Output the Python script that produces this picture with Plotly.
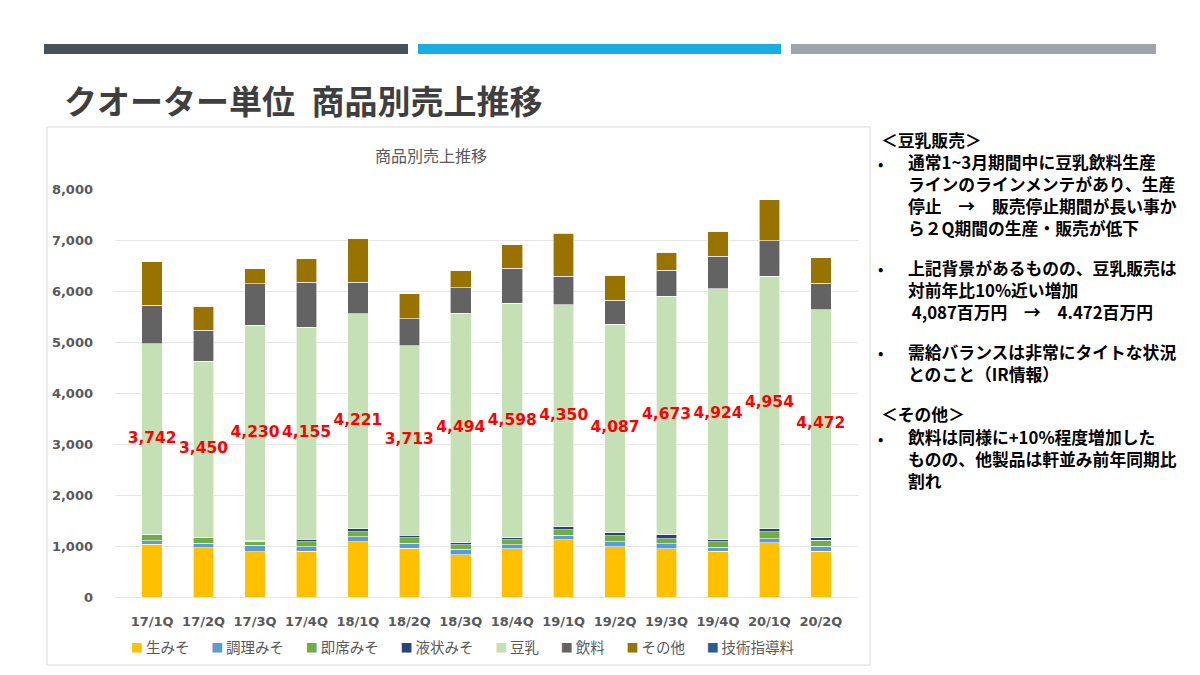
import plotly.graph_objects as go

W, H = 1200, 675

quarters = ["17/1Q", "17/2Q", "17/3Q", "17/4Q", "18/1Q", "18/2Q", "18/3Q",
            "18/4Q", "19/1Q", "19/2Q", "19/3Q", "19/4Q", "20/1Q", "20/2Q"]

# 単位: 百万円
nama_miso = [1033, 961, 889, 902, 1085, 954, 824, 942, 1118, 988, 942, 896, 1059, 896]
chouri_miso = [72, 92, 124, 85, 92, 98, 111, 85, 92, 98, 105, 78, 85, 98]
sokuseki_miso = [118, 111, 85, 92, 105, 111, 85, 92, 111, 118, 98, 105, 131, 118]
ekijou_miso = [5, 5, 5, 52, 52, 52, 46, 39, 59, 59, 78, 46, 59, 46]
tounyu = [3742, 3450, 4230, 4155, 4221, 3713, 4494, 4598, 4350, 4087, 4673, 4924, 4954, 4472]
inryou = [752, 612, 806, 889, 620, 528, 505, 688, 563, 471, 509, 637, 693, 519]
sonota = [859, 471, 302, 459, 858, 491, 340, 466, 825, 491, 353, 485, 805, 505]
gijutsu = [5, 0, 0, 0, 0, 0, 0, 0, 15, 0, 0, 0, 0, 0]

series = [
    ("生みそ", nama_miso, "#FFC000"),
    ("調理みそ", chouri_miso, "#5B9BD5"),
    ("即席みそ", sokuseki_miso, "#70AD47"),
    ("液状みそ", ekijou_miso, "#264478"),
    ("豆乳", tounyu, "#C5E0B4"),
    ("飲料", inryou, "#636363"),
    ("その他", sonota, "#997300"),
    ("技術指導料", gijutsu, "#255E91"),
]

JP = "Noto Sans CJK JP, DejaVu Sans, sans-serif"
NUM = "DejaVu Sans, Noto Sans CJK JP, sans-serif"
GREY = "#595959"


# page pixel -> paper fraction (the page is shown with an offset)
def px(x):
    return (x - 8) / W


def py(y):
    return 1 - (y - 15) / 660


fig = go.Figure()
for name, vals, col in series:
    fig.add_trace(go.Bar(
        x=quarters, y=vals, name=name, showlegend=False,
        marker=dict(color=col, line=dict(color="white", width=0.6)),
    ))

# red labels at the middle of the 豆乳 segment
label_y = []
for i in range(len(quarters)):
    base = nama_miso[i] + chouri_miso[i] + sokuseki_miso[i] + ekijou_miso[i]
    label_y.append(base + tounyu[i] / 2)
fig.add_trace(go.Scatter(
    x=quarters, y=label_y, mode="text",
    text=[f"{v:,}" for v in tounyu],
    textfont=dict(family=NUM, size=15.5, color="#FF0000", weight="bold"),
    showlegend=False, hoverinfo="skip",
))

fig.update_layout(
    width=W, height=H,
    barmode="stack", bargap=0.6,
    paper_bgcolor="white", plot_bgcolor="white",
    margin=dict(l=0, r=0, t=0, b=0),
    showlegend=False,
    xaxis=dict(domain=[px(115), px(858)], showgrid=False, showline=False,
               tickfont=dict(family=NUM, size=13, color=GREY, weight="bold"),
               ticks="", ticklabelstandoff=15),
    yaxis=dict(domain=[py(597), py(189)], range=[0, 8000], dtick=1000,
               tickformat=",", gridcolor="#E6E6E6", gridwidth=1, zeroline=True,
               zerolinecolor="#E6E6E6", zerolinewidth=1,
               tickfont=dict(family=NUM, size=13, color=GREY, weight="bold"),
               ticklabelstandoff=21),
)

# legend row
legend_txt = "\u2002\u2002\u2002".join(
    f"<span style='color:{col};font-size:12px'>■</span>\u2009{name}" for name, _, col in series
)
fig.add_annotation(text=legend_txt, xref="paper", yref="paper",
                   x=px(462), y=py(646), xanchor="center", yanchor="middle", showarrow=False,
                   font=dict(family=JP, size=14.5, color=GREY))

# slide header bars
for x0, x1, col in [(44, 408, "#46525B"), (418, 781, "#1AACE3"), (791, 1156, "#9EA4AA")]:
    fig.add_shape(type="rect", xref="paper", yref="paper",
                  x0=px(x0), x1=px(x1), y0=py(54), y1=py(44),
                  fillcolor=col, line=dict(width=0), layer="below")

# chart frame
fig.add_shape(type="rect", xref="paper", yref="paper",
              x0=px(47), x1=px(870), y0=py(665), y1=py(127),
              line=dict(color="#D9D9D9", width=1), fillcolor="rgba(0,0,0,0)", layer="below")

fig.add_annotation(text="クオーター単位\u2002商品別売上推移", xref="paper", yref="paper",
                   x=px(62), y=py(100), xanchor="left", yanchor="middle", showarrow=False,
                   font=dict(family=JP, size=33, color="#3F3F3F", weight="bold"))
fig.add_annotation(text="商品別売上推移", xref="paper", yref="paper",
                   x=px(431), y=py(155), xanchor="center", yanchor="middle", showarrow=False,
                   font=dict(family=JP, size=16, color=GREY))

# right-hand notes: headers and bullet paragraphs (y of first line, y of last line)
headers = [(140, "＜豆乳販売＞"), (414, "＜その他＞")]
paragraphs = [
    (163, 228, ["通常1~3月期間中に豆乳飲料生産",
                "ラインのラインメンテがあり、生産",
                "停止　→　販売停止期間が長い事か",
                "ら２Q期間の生産・販売が低下"]),
    (268, 311, ["上記背景があるものの、豆乳販売は",
                "対前年比10%近い増加",
                " 4,087百万円　→　4.472百万円"]),
    (352, 373, ["需給バランスは非常にタイトな状況",
                "とのこと（IR情報）"]),
    (438, 480, ["飲料は同様に+10%程度増加した",
                "ものの、他製品は軒並み前年同期比",
                "割れ"]),
]
note_font = dict(family=JP, size=16.8, color="#000000", weight="bold")
for yp, txt in headers:
    fig.add_annotation(text=txt, xref="paper", yref="paper",
                       x=px(879), y=py(yp), xanchor="left", yanchor="middle",
                       showarrow=False, font=note_font)
for y0, y1, lines in paragraphs:
    fig.add_annotation(text="<br>".join(lines), xref="paper", yref="paper",
                       x=px(906), y=py((y0 + y1) / 2), xanchor="left", yanchor="middle",
                       align="left", showarrow=False, font=note_font)
    fig.add_annotation(text="•", xref="paper", yref="paper",
                       x=px(876), y=py(y0), xanchor="left", yanchor="middle",
                       showarrow=False, font=dict(family=JP, size=16, color="#000000"))

fig.write_html("out.html")
